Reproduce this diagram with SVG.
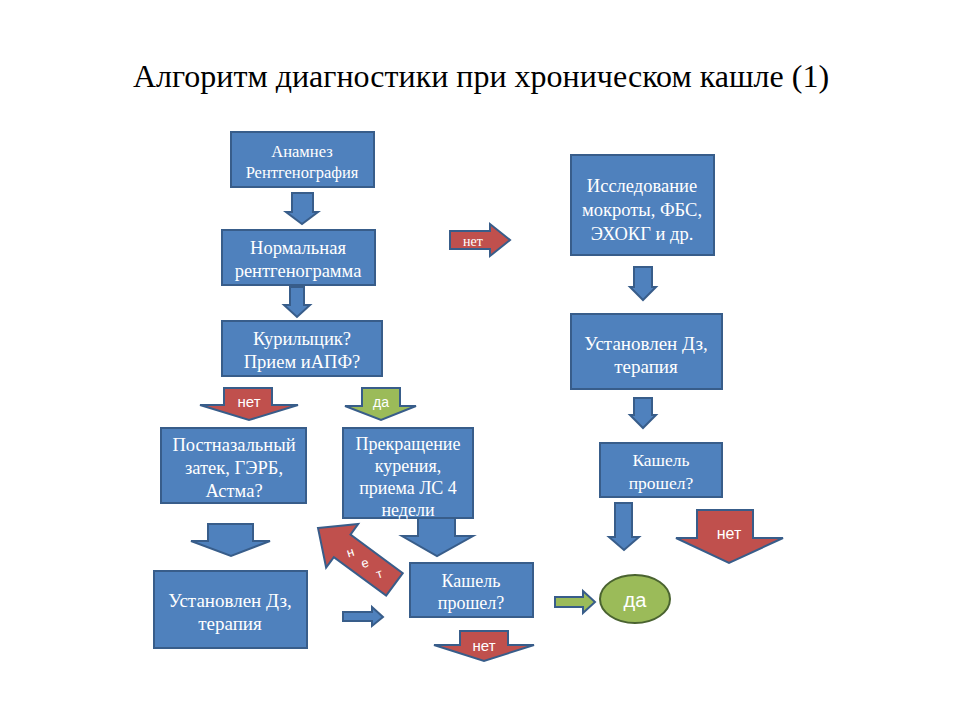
<svg xmlns="http://www.w3.org/2000/svg" width="960" height="720" viewBox="0 0 960 720">
<style>
.box{fill:#4F81BD;stroke:#385D8A;stroke-width:2}
.ab{fill:#4F81BD;stroke:#385D8A;stroke-width:2;stroke-linejoin:miter}
.ar{fill:#C0504D;stroke:#385D8A;stroke-width:2}
.ag{fill:#9BBB59;stroke:#385D8A;stroke-width:2}
.t{font-family:"Liberation Serif","Times New Roman",serif;fill:#fff;text-anchor:middle}
.s{font-family:"Liberation Sans",Arial,sans-serif;fill:#fff;text-anchor:middle}
.title{font-family:"Liberation Serif","Times New Roman",serif;fill:#000;text-anchor:middle;font-size:32px}
</style>
<rect width="960" height="720" fill="#fff"/>
<text class="title" x="481" y="87">Алгоритм диагностики при хроническом кашле (1)</text>

<g id="connectors">
<polygon class="ab" points="292,193 313,193 313,212 318,212 302,224 286,212 292,212"/>
<polygon class="ab" points="290,287 304,287 304,305 310,305 297,317 284,305 290,305"/>
<g id="a-net-right">
<polygon class="ar" points="450,231 490,231 490,224 510,240 490,256 490,249 450,249"/>
<text class="t" x="473" y="246" font-size="14">нет</text>
</g>
<g id="a-net-down1">
<polygon class="ar" points="224,388 272,388 272,405 298,405 249,420 200,405 224,405"/>
<text class="s" x="249" y="407" font-size="15">нет</text>
</g>
<g id="a-da-down">
<polygon class="ag" points="362,388 400,388 400,406 416,406 381,420 345,406 362,406"/>
<text class="s" x="381" y="407" font-size="14">да</text>
</g>
<polygon class="ab" points="208,524 253,524 253,541 270,541 231,556 191,541 208,541"/>
<polygon class="ab" points="418,518 455,518 455,536 473,536 437,556 402,536 418,536"/>
<g id="a-net-diag" transform="translate(318,528) rotate(36.4)">
<polygon class="ar" points="0,0 30,-27 30,-14 95,-14 95,14 30,14 30,27"/>
<text class="s" font-size="13" transform="translate(40,0) rotate(-54)" x="0" y="5">н</text>
<text class="s" font-size="13" transform="translate(58,0) rotate(-54)" x="0" y="5">е</text>
<text class="s" font-size="13" transform="translate(76,0) rotate(-54)" x="0" y="5">т</text>
</g>
<polygon class="ab" points="343,612 372,612 372,607 383,617 372,626 372,621 343,621"/>
<g id="a-net-down2">
<polygon class="ar" points="460,631 508,631 508,645 534,645 484,661 434,645 460,645"/>
<text class="s" x="484" y="651" font-size="15">нет</text>
</g>
<polygon class="ab" points="634,267 652,267 652,287 656,287 643,300 630,287 634,287"/>
<polygon class="ab" points="634,398 652,398 652,415 656,415 643,428 630,415 634,415"/>
<polygon class="ab" points="615,503 632,503 632,537 639,537 624,550 609,537 615,537"/>
<g id="a-net-big">
<polygon class="ar" points="697,510 753,510 753,538 783,538 729,563 676,538 697,538"/>
<text class="s" x="729" y="539" font-size="16">нет</text>
</g>
<polygon class="ag" points="555,597 583,597 583,591 595,602 583,613 583,607 555,607"/>
</g>

<g id="n1"><rect class="box" x="231" y="132" width="143" height="55"/>
<text class="t" font-size="16.5"><tspan x="302" y="157">Анамнез</tspan><tspan x="302" y="178">Рентгенография</tspan></text></g>
<g id="n2"><rect class="box" x="222" y="230" width="153" height="55"/>
<text class="t" font-size="18.5"><tspan x="298" y="254">Нормальная</tspan><tspan x="298" y="277">рентгенограмма</tspan></text></g>
<g id="n3"><rect class="box" x="222" y="321" width="160" height="55"/>
<text class="t" font-size="18.5"><tspan x="302" y="345">Курилыцик?</tspan><tspan x="302" y="368">Прием иАПФ?</tspan></text></g>
<g id="n4"><rect class="box" x="161" y="428" width="145" height="75"/>
<text class="t" font-size="18.5"><tspan x="234" y="451">Постназальный</tspan><tspan x="234" y="474">затек, ГЭРБ,</tspan><tspan x="234" y="497">Астма?</tspan></text></g>
<g id="n5"><rect class="box" x="343" y="428" width="130" height="90"/>
<text class="t" font-size="18"><tspan x="408" y="450">Прекращение</tspan><tspan x="408" y="472">курения,</tspan><tspan x="408" y="494">приема ЛС 4</tspan><tspan x="408" y="516">недели</tspan></text></g>
<g id="n6"><rect class="box" x="154" y="571" width="153" height="77"/>
<text class="t" font-size="19"><tspan x="230" y="607">Установлен Дз,</tspan><tspan x="230" y="630">терапия</tspan></text></g>
<g id="n7"><rect class="box" x="410" y="563" width="123" height="54"/>
<text class="t" font-size="18"><tspan x="471" y="587">Кашель</tspan><tspan x="471" y="609">прошел?</tspan></text></g>
<g id="n8"><rect class="box" x="571" y="155" width="143" height="100"/>
<text class="t" font-size="18.5"><tspan x="642" y="192">Исследование</tspan><tspan x="642" y="216">мокроты, ФБС,</tspan><tspan x="642" y="240">ЭХОКГ и др.</tspan></text></g>
<g id="n9"><rect class="box" x="571" y="314" width="151" height="75"/>
<text class="t" font-size="19"><tspan x="646" y="350">Установлен Дз,</tspan><tspan x="646" y="373">терапия</tspan></text></g>
<g id="n10"><rect class="box" x="600" y="443" width="122" height="54"/>
<text class="t" font-size="17.5"><tspan x="661" y="466">Кашель</tspan><tspan x="661" y="489">прошел?</tspan></text></g>
<g id="n11"><ellipse cx="635" cy="599" rx="35" ry="24" fill="#9BBB59" stroke="#4A6330" stroke-width="2"/>
<text class="s" x="635" y="607" font-size="20">да</text></g>
</svg>
